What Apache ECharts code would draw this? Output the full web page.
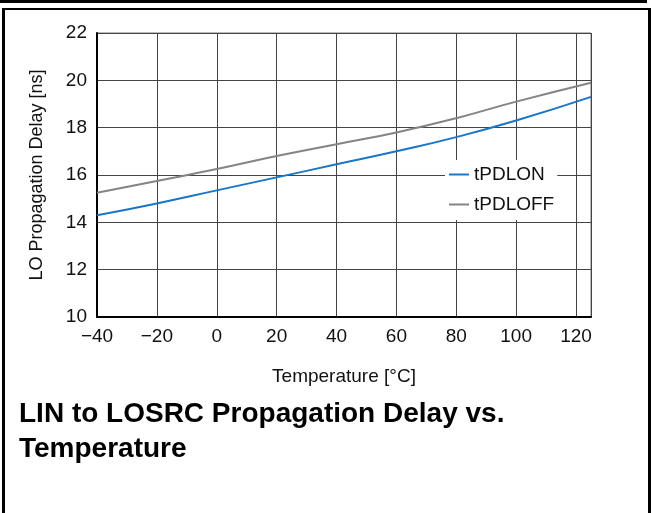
<!DOCTYPE html>
<html>
<head>
<meta charset="utf-8">
<script src="https://cdn.jsdelivr.net/npm/echarts@6/dist/echarts.min.js"></script>
<style>html,body{margin:0;padding:0;background:#fff}#c{width:651px;height:513px}</style>
</head>
<body>
<div id="c"></div>
<script>
const temps = [-40, -20, 0, 20, 40, 60, 80, 100, 125];
const tPDLON = [14.3, 14.8, 15.35, 15.9, 16.45, 17.0, 17.6, 18.3, 19.3];
const tPDLOFF = [15.25, 15.75, 16.25, 16.8, 17.3, 17.8, 18.4, 19.1, 19.9];
const seriesNames = ['tPDLON', 'tPDLOFF'];
const FONT = "'Liberation Sans', Arial, Helvetica, sans-serif";

const chart = echarts.init(document.getElementById('c'), null, {renderer: 'canvas'});
chart.setOption({
  animation: false,
  textStyle: {fontFamily: FONT},
  grid: {left: 97, right: 60, top: 33, bottom: 196, show: true, borderColor: '#777', borderWidth: 1},
  xAxis: {
    type: 'value', min: -40, max: 125, interval: 20,
    name: 'Temperature [°C]', nameLocation: 'middle', nameGap: 50,
    nameTextStyle: {fontSize: 19, color: '#111', fontFamily: FONT},
    axisLine: {show: true, onZero: false, lineStyle: {color: '#000', width: 2}},
    axisTick: {show: false},
    axisLabel: {fontSize: 19, color: '#111', margin: 10, fontFamily: FONT, showMaxLabel: false,
      formatter: v => String(v).replace('-', '\u2212')},
    splitLine: {show: true, lineStyle: {color: '#444', width: 1}}
  },
  yAxis: {
    type: 'value', min: 10, max: 22, interval: 2,
    name: 'LO Propagation Delay [ns]', nameLocation: 'middle', nameGap: 51,
    nameTextStyle: {fontSize: 18, color: '#111', fontFamily: FONT},
    axisLine: {show: true, onZero: false, lineStyle: {color: '#000', width: 2}},
    axisTick: {show: false},
    axisLabel: {fontSize: 19, color: '#111', margin: 10, fontFamily: FONT},
    splitLine: {show: true, lineStyle: {color: '#444', width: 1}}
  },
  legend: {
    data: seriesNames, orient: 'vertical', left: 445, top: 160,
    padding: [5, 3, 6, 4], backgroundColor: '#fff', itemGap: 11,
    icon: 'rect', itemWidth: 20, itemHeight: 2,
    textStyle: {fontSize: 19, color: '#111', fontFamily: FONT}
  },
  series: [
    {name: seriesNames[0], type: 'line', smooth: true, showSymbol: false,
     data: temps.map((t, i) => [t, tPDLON[i]]),
     lineStyle: {color: '#1a76c6', width: 2}, itemStyle: {color: '#1a76c6'}},
    {name: seriesNames[1], type: 'line', smooth: true, showSymbol: false,
     data: temps.map((t, i) => [t, tPDLOFF[i]]),
     lineStyle: {color: '#848484', width: 2}, itemStyle: {color: '#848484'}}
  ],
  graphic: [
    {type: 'rect', shape: {x: 0, y: 0, width: 647, height: 3}, style: {fill: '#000'}},
    {type: 'rect', shape: {x: 2, y: 8, width: 649, height: 2}, style: {fill: '#000'}},
    {type: 'rect', shape: {x: 2, y: 8, width: 3, height: 505}, style: {fill: '#000'}},
    {type: 'rect', shape: {x: 648, y: 8, width: 3, height: 505}, style: {fill: '#000'}},
    {type: 'text', left: 19, top: 397,
     style: {text: 'LIN to LOSRC Propagation Delay vs.\nTemperature', fontSize: 28, fontWeight: 'bold',
       fill: '#000', lineHeight: 35, fontFamily: FONT}}
  ]
});
</script>
</body>
</html>
